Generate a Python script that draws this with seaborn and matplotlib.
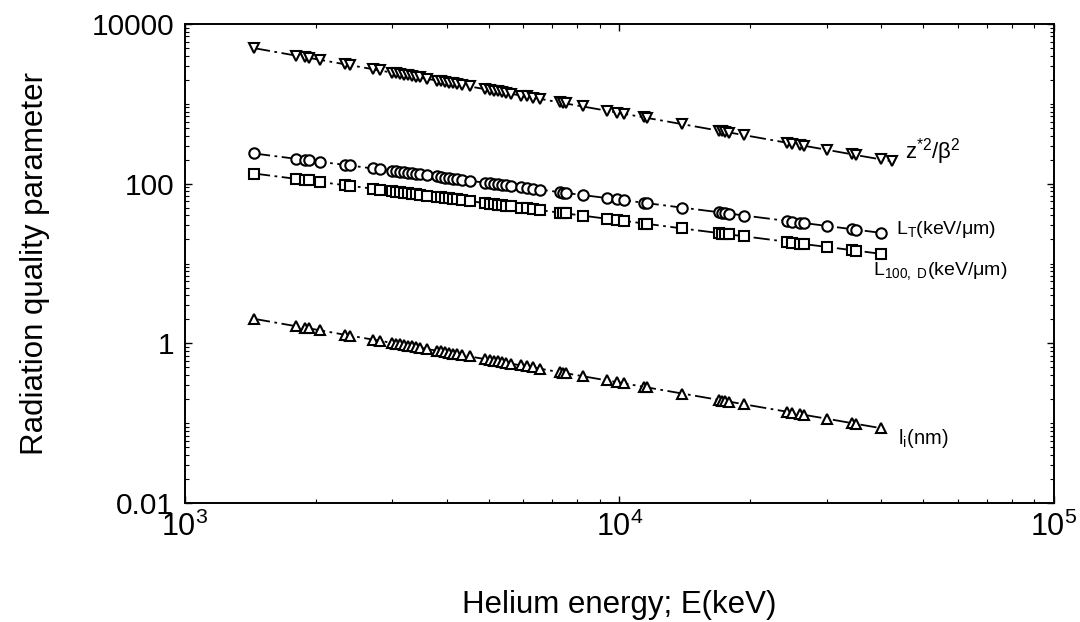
import numpy as np
import pandas as pd
import matplotlib
matplotlib.use("Agg")
import matplotlib.pyplot as plt
import seaborn as sns
from matplotlib.ticker import LogLocator, FixedLocator, NullFormatter, FuncFormatter

# Helium energy (keV)
energy = [1441, 1800, 1887, 1928, 2043, 2333, 2395, 2705, 2808, 2991,
          3055, 3121, 3187, 3255, 3325, 3396, 3469, 3600, 3796, 3877,
          3960, 4045, 4131, 4220, 4333, 4520, 4895, 5025, 5133, 5243,
          5355, 5470, 5617, 5922, 6113, 6310, 6548, 7278, 7396, 7514,
          8222, 9335, 9895, 10268, 11416, 11599, 13956, 16982, 17254, 17526,
          17906, 19390, 24330, 24990, 26070, 26630, 30080, 34320, 35050, 40040]
energy_z = energy + [42430]

# z*^2 / beta^2
z2_beta2 = [4990, 4020, 3840, 3770, 3560, 3130, 3050, 2720, 2620, 2460,
            2410, 2370, 2320, 2270, 2220, 2180, 2140, 2060, 1960, 1920,
            1880, 1840, 1800, 1770, 1720, 1650, 1530, 1490, 1460, 1430,
            1400, 1380, 1340, 1270, 1240, 1200, 1160, 1040, 1030, 1010,
            928, 821, 776, 748, 676, 665, 556, 460, 454, 447,
            437, 405, 325, 317, 304, 298, 265, 233, 228, 201, 190]

# L_T (keV/um)
L_T = [239, 205, 199, 196, 188, 172, 169, 155, 151, 145,
       143, 141, 139, 137, 135, 133, 131, 127, 123, 121,
       119, 118, 116, 114, 112, 109, 103, 101, 99.7, 98.3,
       96.9, 95.5, 93.7, 90.4, 88.4, 86.5, 84.3, 78.4, 77.5, 76.7,
       72.1, 66.1, 63.4, 61.9, 57.5, 56.9, 50.1, 43.8, 43.3, 42.8,
       42.2, 39.9, 34.1, 33.5, 32.5, 32.1, 29.5, 26.9, 26.5, 24.2]

# L_100,D (keV/um)
L_100D = [134, 115, 111, 110, 105, 95.9, 94.2, 86.5, 84.3, 80.7,
          79.5, 78.3, 77.2, 76.0, 74.9, 73.8, 72.7, 70.9, 68.3, 67.3,
          66.3, 65.3, 64.4, 63.4, 62.3, 60.5, 57.2, 56.2, 55.3, 54.5,
          53.7, 52.9, 51.9, 50.1, 49.0, 47.9, 46.7, 43.4, 42.9, 42.4,
          39.8, 36.4, 35.0, 34.1, 31.7, 31.3, 27.5, 24.0, 23.7, 23.5,
          23.1, 21.9, 18.7, 18.3, 17.8, 17.5, 16.1, 14.7, 14.5, 13.2]

# l_i (nm)
l_i = [2.03, 1.64, 1.57, 1.54, 1.46, 1.28, 1.25, 1.115, 1.077, 1.014,
       0.994, 0.974, 0.955, 0.936, 0.917, 0.899, 0.881, 0.850, 0.809, 0.793,
       0.777, 0.761, 0.746, 0.731, 0.713, 0.685, 0.636, 0.620, 0.607, 0.595,
       0.583, 0.572, 0.558, 0.530, 0.514, 0.499, 0.482, 0.436, 0.430, 0.423,
       0.388, 0.344, 0.326, 0.315, 0.284, 0.280, 0.235, 0.195, 0.192, 0.189,
       0.186, 0.172, 0.139, 0.135, 0.130, 0.127, 0.1135, 0.100, 0.098, 0.0865]

y_ticks = [1e-2, 1, 1e2, 1e4]
y_ticklabels = ["0.01", "1", "100", "10000"]
x_ticks = [1e3, 1e4, 1e5]

sns.set_theme(style="ticks")
plt.rcParams['font.family'] = ['Liberation Sans', 'DejaVu Sans']
plt.rcParams['mathtext.fontset'] = 'custom'
plt.rcParams['mathtext.rm'] = 'Liberation Sans'
plt.rcParams['mathtext.it'] = 'Liberation Sans'
plt.rcParams['mathtext.default'] = 'regular'
for key in ['text.color', 'axes.labelcolor', 'xtick.color', 'ytick.color',
            'xtick.labelcolor', 'ytick.labelcolor', 'axes.edgecolor']:
    plt.rcParams[key] = 'black'

fig = plt.figure(figsize=(10.8, 6.22), dpi=100)
ax = fig.add_axes([0.1713, 0.1913, 0.8046, 0.7701])

series = [
    (energy_z, z2_beta2, 'v'),
    (energy, L_T, 'o'),
    (energy, L_100D, 's'),
    (energy, l_i, '^'),
]
ls = (0, (9, 2.5, 1.5, 2.5))
for xs, ys, mk in series:
    df = pd.DataFrame({"E": xs, "v": ys})
    sns.lineplot(data=df, x="E", y="v", ax=ax, color='black', estimator=None,
                 sort=True, linewidth=1.3, linestyle=ls, marker=mk,
                 markersize=7.5 if mk != 's' else 6.6, markerfacecolor='white',
                 markeredgecolor='black', markeredgewidth=1.5)

ax.set_xscale('log')
ax.set_yscale('log')
ax.set_xlim(1e3, 1e5)
ax.set_ylim(1e-2, 1e4)

ax.yaxis.set_major_locator(FixedLocator(y_ticks))
ax.set_yticklabels(y_ticklabels)
ax.yaxis.set_minor_locator(LogLocator(base=10, subs=np.arange(1, 10), numticks=50))
ax.yaxis.set_minor_formatter(NullFormatter())
ax.xaxis.set_major_locator(FixedLocator(x_ticks))
ax.xaxis.set_major_formatter(FuncFormatter(lambda v, p: r'$10^{%d}$' % round(np.log10(v))))
ax.xaxis.set_minor_locator(LogLocator(base=10, subs=np.arange(2, 10), numticks=50))
ax.xaxis.set_minor_formatter(NullFormatter())

ax.tick_params(which='both', direction='in', top=True, right=True, color='black',
               labelcolor='black')
ax.tick_params(which='major', length=5, width=1)
ax.tick_params(which='minor', length=3, width=0.8)
ax.tick_params(axis='y', labelsize=21.5, pad=8)
ax.tick_params(axis='x', labelsize=22, pad=6)
for s in ax.spines.values():
    s.set_linewidth(1.4)
    s.set_color('black')

ax.set_xlabel("Helium energy; E(keV)", fontsize=22.5, labelpad=34, color='black')
ax.set_ylabel("Radiation quality parameter", fontsize=22.5, labelpad=30, color='black')

ax.text(45500, 250, r'$z^{*2}/\beta^2$', fontsize=16, va='center', ha='left', color='black')
ax.text(43300, 27.0, r'$L_T$(keV/$\mu$m)', fontsize=14, va='center', ha='left', color='black')
ax.text(38300, 8.0, r'$L_{100,\ D}$(keV/$\mu$m)', fontsize=14, va='center', ha='left', color='black')
ax.text(43700, 0.064, r'$l_i$(nm)', fontsize=14.5, va='center', ha='left', color='black')

fig.savefig("out.png", dpi=100)
